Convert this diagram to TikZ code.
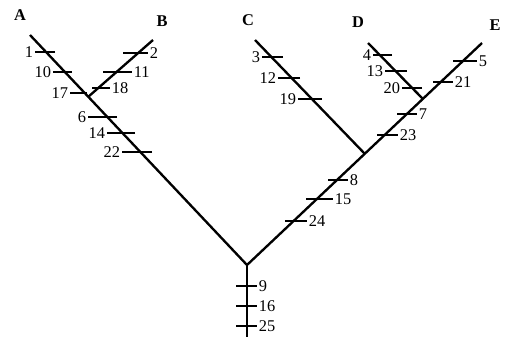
\documentclass[tikz,border=0pt]{standalone}
\usepackage{fontspec}
\setmainfont{Liberation Serif}
\begin{document}
\begin{tikzpicture}[x=0.03cm, y=-0.03cm, font=\fontsize{14}{16}\selectfont,
    br/.style={line width=2pt},
    tk/.style={line width=1.2pt},
    lb/.style={inner sep=1pt},
    tip/.style={font=\fontsize{14}{16}\selectfont\bfseries}]
  \useasboundingbox (0,0) rectangle (511,355);
  % branch points
  \coordinate (root) at (247,265);
  \coordinate (bot) at (247,337);
  \coordinate (a) at (30,35);
  \coordinate (b) at (153,40);
  \coordinate (ab) at (88,97);
  \coordinate (c) at (255,40);
  \coordinate (ce) at (365,154);
  \coordinate (d) at (368,43);
  \coordinate (de) at (423,99);
  \coordinate (e) at (482,43);
  % taxa
  \node[tip] (ta) at (20,15) {A};
  \node[tip] (tb) at (162,21) {B};
  \node[tip] (tc) at (248,20) {C};
  \node[tip] (td) at (358,22) {D};
  \node[tip] (te) at (495,25) {E};
  % tree
  \draw[br] (a) -- (root) -- (e);
  \draw[br] (root) -- (bot);
  \draw[br] (b) -- (ab);
  \draw[br] (c) -- (ce);
  \draw[br] (d) -- (de);
  % character ticks, label on the left
  \foreach \xa/\xb/\y/\t in {35/55/52/1, 53/72/72/10, 70/87/93/17,
      88/117/117/6, 107/135/133/14, 122/152/152/22,
      262/283/57/3, 278/300/78/12, 298/322/99/19,
      373/392/55/4, 385/407/71/13, 402/422/88/20}
    \draw[tk] (\xb,\y) -- (\xa,\y) node[lb, left] (n\t) {\t};
  % character ticks, label on the right
  \foreach \xa/\xb/\y/\t in {123/148/53/2, 103/132/72/11, 92/110/88/18,
      453/477/61/5, 433/453/82/21, 397/417/114/7, 377/398/135/23,
      328/348/180/8, 306/333/199/15, 285/307/221/24,
      236/257/286/9, 236/257/306/16, 236/257/326/25}
    \draw[tk] (\xa,\y) -- (\xb,\y) node[lb, right] (n\t) {\t};
\end{tikzpicture}
\end{document}
